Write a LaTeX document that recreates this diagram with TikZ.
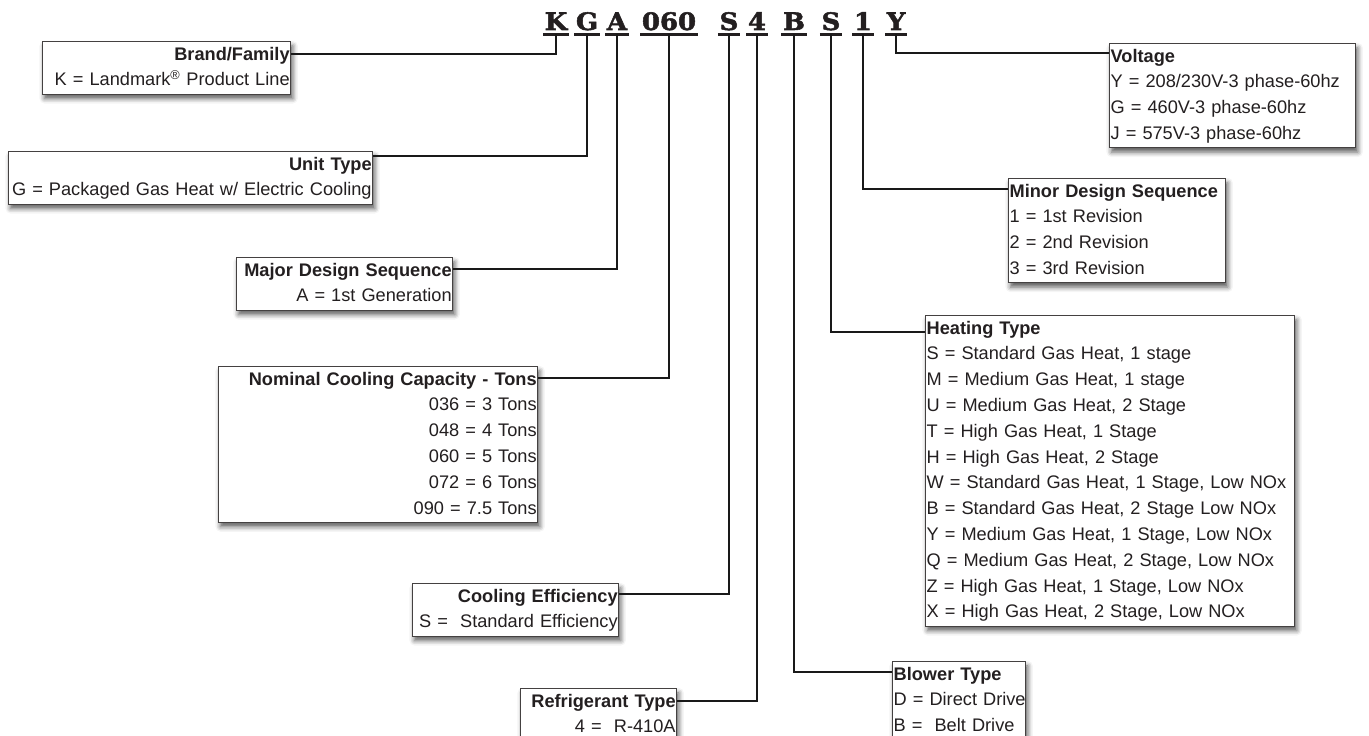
\documentclass[tikz,border=0pt]{standalone}
\usepackage{fontspec}
\setmainfont{Liberation Sans}
\newfontfamily\codefont{DejaVu Serif}[FakeStretch=1.08,BoldFeatures={FakeBold=2.2}]
\usetikzlibrary{shadows.blur}
\definecolor{ink}{HTML}{231F20}
\begin{document}
\begin{tikzpicture}[x=1pt,y=-1pt,
  box/.style={draw=ink!85, line width=0.9pt, fill=white, anchor=north west,
    inner xsep=1.2pt, inner ysep=0.5pt, font=\fontsize{18.2}{25.8}\selectfont, text=ink,
    blur shadow={shadow xshift=2pt, shadow yshift=-4.5pt, shadow blur radius=5pt, shadow opacity=65}},
  rbox/.style={box, align=right, text width=#1},
  lbox/.style={box, align=left, text width=#1},
  code/.style={font=\codefont\bfseries\fontsize{24}{24}\selectfont, text=ink, inner sep=0pt, anchor=base},
  uline/.style={line width=3pt, ink},
  conn/.style={line width=2.4pt, black!90},
]
\useasboundingbox (0,0) rectangle (1369,736);
\clip (0,0) rectangle (1369,736);
\coordinate (ul) at (0,34);

% code letters
\node[code] (cK)  at (556,30) {K};
\node[code] (cG)  at (587,30) {G};
\node[code] (cA)  at (617,30) {A};
\node[code] (cN)  at (669,30) {060};
\node[code] (cS)  at (729,30) {S};
\node[code] (c4)  at (757,30) {4};
\node[code] (cB)  at (794,30) {B};
\node[code] (cH)  at (831,30) {S};
\node[code] (c1)  at (863,30) {1};
\node[code] (cY)  at (896,30) {Y};
\foreach \n in {cK,cG,cA,cN,cS,c4,cB,cH,c1,cY}
  \draw[uline] ([xshift=-1.5pt]\n.west |- ul) -- ([xshift=1.5pt]\n.east |- ul);

% left boxes
\node[rbox=246] (brand) at (42,41) {\textbf{Brand/Family}\strut\\\mbox{K = Landmark\textsuperscript{®} Product Line}\strut};
\node[rbox=362] (unit) at (8,151) {\textbf{Unit Type}\strut\\\mbox{G = Packaged Gas Heat w/ Electric Cooling}\strut};
\node[rbox=214] (major) at (236,257) {\mbox{\textbf{Major Design Sequence}}\strut\\A = 1st Generation\strut};
\node[rbox=317] (nominal) at (218,366) {\mbox{\textbf{Nominal Cooling Capacity - Tons}}\strut\\036 = 3 Tons\strut\\048 = 4 Tons\strut\\060 = 5 Tons\strut\\072 = 6 Tons\strut\\090 = 7.5 Tons\strut};
\node[rbox=204] (cooleff) at (412,583) {\textbf{Cooling Efficiency}\strut\\\mbox{S = \ Standard Efficiency}\strut};
\node[rbox=154] (refrig) at (520,688) {\mbox{\textbf{Refrigerant Type}}\strut\\4 = \ R-410A\strut};

% right boxes
\node[lbox=244] (volt) at (1109,43) {\textbf{Voltage}\strut\\\mbox{Y = 208/230V-3 phase-60hz}\strut\\G = 460V-3 phase-60hz\strut\\J = 575V-3 phase-60hz\strut};
\node[lbox=215] (minor) at (1008,178) {\mbox{\textbf{Minor Design Sequence}}\strut\\1 = 1st Revision\strut\\2 = 2nd Revision\strut\\3 = 3rd Revision\strut};
\node[lbox=367] (heat) at (925,315) {\textbf{Heating Type}\strut\\S = Standard Gas Heat, 1 stage\strut\\M = Medium Gas Heat, 1 stage\strut\\U = Medium Gas Heat, 2 Stage\strut\\T = High Gas Heat, 1 Stage\strut\\H = High Gas Heat, 2 Stage\strut\\\mbox{W = Standard Gas Heat, 1 Stage, Low NOx}\strut\\\mbox{B = Standard Gas Heat, 2 Stage Low NOx}\strut\\\mbox{Y = Medium Gas Heat, 1 Stage, Low NOx}\strut\\\mbox{Q = Medium Gas Heat, 2 Stage, Low NOx}\strut\\\mbox{Z = High Gas Heat, 1 Stage, Low NOx}\strut\\\mbox{X = High Gas Heat, 2 Stage, Low NOx}\strut};
\node[lbox=131] (blower) at (892,661) {\textbf{Blower Type}\strut\\\mbox{D = Direct Drive}\strut\\\mbox{B = \ Belt Drive}\strut};

% connectors
\draw[conn] (cK.south |- ul) |- ([yshift=-13pt]brand.north east);
\draw[conn] (cG.south |- ul) |- ([yshift=-5pt]unit.north east);
\draw[conn] (cA.south |- ul) |- ([yshift=-12pt]major.north east);
\draw[conn] (cN.south |- ul) |- ([yshift=-12pt]nominal.north east);
\draw[conn] (cS.south |- ul) |- ([yshift=-11pt]cooleff.north east);
\draw[conn] (c4.south |- ul) |- ([yshift=-13pt]refrig.north east);
\draw[conn] (cY.south |- ul) |- ([yshift=-10pt]volt.north west);
\draw[conn] (c1.south |- ul) |- ([yshift=-11pt]minor.north west);
\draw[conn] (cH.south |- ul) |- ([yshift=-17pt]heat.north west);
\draw[conn] (cB.south |- ul) |- ([yshift=-11pt]blower.north west);
\end{tikzpicture}
\end{document}
